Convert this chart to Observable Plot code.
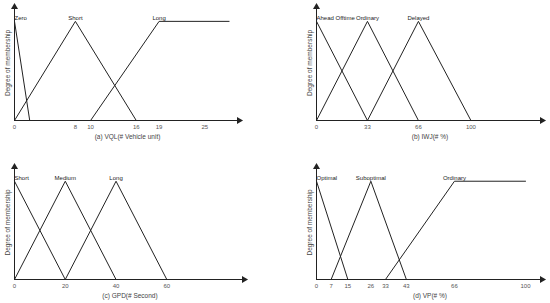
<!DOCTYPE html>
<html><head><meta charset="utf-8">
<script src="https://cdn.jsdelivr.net/npm/d3@7"></script>
<script src="https://cdn.jsdelivr.net/npm/@observablehq/plot@0.6"></script>
<style>
body{margin:0;background:#fff;}
#wrap{position:relative;width:550px;height:303px;overflow:hidden;}
#wrap > div{position:absolute;}
</style>
</head><body><div id="wrap"></div>
<script>
// ---- data ----
const yLabel = "Degree of membership";

// (a) VQL
const vqlTitle = "(a) VQL(# Vehicle unit)";
const vqlTicks = [0, 8, 10, 16, 19, 25];
const vqlNames = ["Zero", "Short", "Long"];
const vqlZero = [[0, 1], [2, 0]];
const vqlShort = [[0, 0], [8, 1], [16, 0]];
const vqlLong = [[10, 0], [19, 1], [28.2, 1]];
const vqlAxisMax = 29.7;

// (b) IWJ
const iwjTitle = "(b) IWJ(# %)";
const iwjTicks = [0, 33, 66, 100];
const iwjNames = ["Ahead Offtime", "Ordinary", "Delayed"];
const iwjAhead = [[0, 1], [33, 0]];
const iwjOrdinary = [[0, 0], [33, 1], [66, 0]];
const iwjDelayed = [[33, 0], [66, 1], [100, 0]];
const iwjAxisMax = 147;

// (c) GPD
const gpdTitle = "(c) GPD(# Second)";
const gpdTicks = [0, 20, 40, 60];
const gpdNames = ["Short", "Medium", "Long"];
const gpdShort = [[0, 1], [20, 0]];
const gpdMedium = [[0, 0], [20, 1], [40, 0]];
const gpdLong = [[20, 0], [40, 1], [60, 0]];
const gpdAxisMax = 91;

// (d) VP
const vpTitle = "(d) VP(# %)";
const vpTicks = [0, 7, 15, 26, 33, 43, 66, 100];
const vpNames = ["Optimal", "Suboptimal", "Ordinary"];
const vpOptimal = [[0, 1], [15, 0]];
const vpSuboptimal = [[7, 0], [26, 1], [43, 0]];
const vpOrdinary = [[33, 0], [66, 1], [100, 1]];
const vpAxisMax = 108.6;

const yAxisMax = 1.16;

// ---- drawing ----
const ink = "#222";
const font = "Liberation Sans, Arial, sans-serif";

function panel({title, ticks, names, sets, axisMax, left, top, height, mTop, mBottom, mLeft, mRight}) {
  const lines = sets.flatMap((s, i) => s.map(([x, mu]) => ({set: names[i], x, mu})));
  const peaks = sets.map((s, i) => {
    const p = s.find(d => d[1] === 1);
    return {name: names[i], x: p[0], mu: 1, anchor: p[0] === 0 ? "start" : "middle"};
  });
  const chart = Plot.plot({
    width: 275, height,
    marginTop: mTop, marginBottom: mBottom, marginLeft: mLeft, marginRight: mRight,
    x: {domain: [0, axisMax]},
    y: {domain: [0, yAxisMax], axis: null},
    style: {fontFamily: font, fontSize: "6.5px", background: "white", overflow: "visible"},
    marks: [
      Plot.ruleY([0], {x1: 0, x2: axisMax, stroke: ink, strokeWidth: 1}),
      Plot.ruleX([0], {y1: 0, y2: yAxisMax, stroke: ink, strokeWidth: 1}),
      Plot.dot([{x: axisMax, y: 0}], {x: "x", y: "y", symbol: "triangle", r: 2.6, fill: ink, stroke: null, rotate: 90, dx: -1.5}),
      Plot.dot([{x: 0, y: yAxisMax}], {x: "x", y: "y", symbol: "triangle", r: 2.6, fill: ink, stroke: null, dy: 1.5}),
      Plot.line(lines, {x: "x", y: "mu", z: "set", stroke: ink, strokeWidth: 1}),
      Plot.text(peaks.filter(d => d.anchor === "start"), {x: "x", y: "mu", text: "name", textAnchor: "start", lineAnchor: "bottom", dy: -1, fill: ink, fontSize: 6}),
      Plot.text(peaks.filter(d => d.anchor === "middle"), {x: "x", y: "mu", text: "name", textAnchor: "middle", lineAnchor: "bottom", dy: -1, fill: ink, fontSize: 6}),
      Plot.axisX({ticks, tickSize: 0, tickPadding: 4, tickFormat: d => String(d), label: null, fill: "#555", stroke: null, fontSize: 6}),
      Plot.text([title], {frameAnchor: "bottom", textAnchor: "middle", lineAnchor: "middle", dy: 16, fill: "#444"}),
      Plot.text([yLabel], {frameAnchor: "left", textAnchor: "middle", lineAnchor: "middle", rotate: -90, dx: -7, fill: "#444"})
    ]
  });
  const div = document.createElement("div");
  div.style.left = left + "px";
  div.style.top = top + "px";
  div.appendChild(chart);
  document.getElementById("wrap").appendChild(div);
}

panel({title: vqlTitle, ticks: vqlTicks, names: vqlNames, sets: [vqlZero, vqlShort, vqlLong], axisMax: vqlAxisMax,
  left: 0, top: 0, height: 151, mTop: 5, mBottom: 31, mLeft: 14, mRight: 35});
panel({title: iwjTitle, ticks: iwjTicks, names: iwjNames, sets: [iwjAhead, iwjOrdinary, iwjDelayed], axisMax: iwjAxisMax,
  left: 275, top: 0, height: 151, mTop: 5, mBottom: 31, mLeft: 41, mRight: 7});
panel({title: gpdTitle, ticks: gpdTicks, names: gpdNames, sets: [gpdShort, gpdMedium, gpdLong], axisMax: gpdAxisMax,
  left: 0, top: 151, height: 152, mTop: 14, mBottom: 24, mLeft: 14, mRight: 30});
panel({title: vpTitle, ticks: vpTicks, names: vpNames, sets: [vpOptimal, vpSuboptimal, vpOrdinary], axisMax: vpAxisMax,
  left: 275, top: 151, height: 152, mTop: 14, mBottom: 24, mLeft: 41, mRight: 7});
</script>
</body></html>
